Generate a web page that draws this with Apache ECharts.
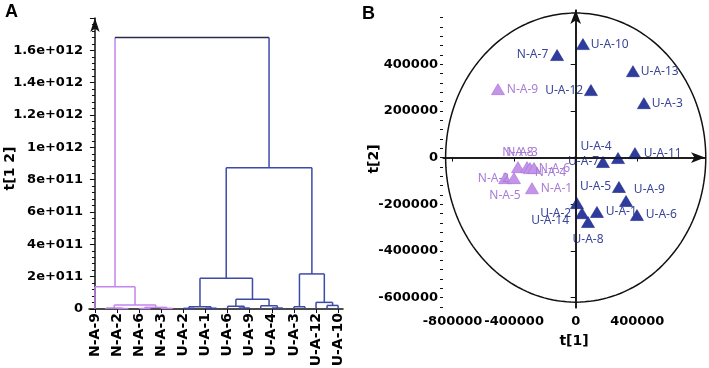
<!DOCTYPE html>
<html><head><meta charset="utf-8">
<script src="https://cdn.jsdelivr.net/npm/echarts@6/dist/echarts.min.js"></script>
<style>html,body{margin:0;padding:0;background:#fff}#c{width:709px;height:368px}</style>
</head><body><div id="c"></div>
<script>
// ---------- Panel A: hierarchical clustering dendrogram ----------
const leafCount = 23;
const leafTickPositions = [0, 2, 4, 6, 8, 10, 12, 14, 16, 18, 20, 22];
const leafTickLabels = ['N-A-9','N-A-2','N-A-6','N-A-3','U-A-2','U-A-1','U-A-6','U-A-9','U-A-4','U-A-3','U-A-12','U-A-10'];
// merges (node ids: leaves 0..22, merge k -> id 23+k)
const mergeLeft   = [2, 1, 4, 6, 25, 24, 0,   8, 10, 30, 13, 12, 16, 15, 34, 32, 18, 21, 20, 39, 38, 29];
const mergeRight  = [3, 23, 5, 7, 26, 27, 28,  9, 11, 31, 14, 33, 17, 35, 36, 37, 19, 22, 40, 41, 42, 43];
const mergeHeight = [3e9, 6e9, 3e9, 4e9, 1.0e10, 2.5e10, 1.38e11,
                     4e9, 5e9, 1.4e10, 6e9, 1.7e10, 6e9, 2.0e10, 6.0e10, 1.9e11,
                     1.4e10, 2.2e10, 4.1e10, 2.17e11, 8.73e11, 1.68e12];
const mergeGroup  = [0,0,0,0,0,0,0, 1,1,1,1,1,1,1,1,1, 1,1,1,1,1, 2]; // 0 N, 1 U, 2 root
const yTicksA = [0, 2e11, 4e11, 6e11, 8e11, 1e12, 1.2e12, 1.4e12, 1.6e12];

// ---------- Panel B: PCA score plot ----------
const nNames = ['N-A-9','N-A-8','N-A-3','N-A-6','N-A-4','N-A-5','N-A-2','N-A-1'];
const nT1    = [-505000,-375000,-316000,-297000,-271000,-459000,-401000,-284000];
const nT2    = [ 293000, -41000, -41000, -45000, -45000, -88000, -88000,-131000];
const uNames = ['N-A-7','U-A-10','U-A-12','U-A-13','U-A-3','U-A-11','U-A-4','U-A-7','U-A-5','U-A-9','U-A-6','U-A-1','U-A-14','U-A-2','U-A-8'];
const uT1    = [-121000, 47000, 99000, 372000, 443000, 385000, 275000, 177000, 281000, 327000, 398000, 138000, 8000, 41000, 80000];
const uT2    = [ 439000,486000,289000, 370000, 233000,  19000,  -2000, -19000,-126000,-186000,-246000,-233000,-195000,-238000,-276000];
const ellipseRadiusT1 = 845000, ellipseRadiusT2 = 619000;
const xTicksB = [-800000, -400000, 0, 400000];
const yTicksB = [-600000, -400000, -200000, 0, 200000, 400000];

// ---------- styles ----------
const PINK = '#c585ee', BLUE = '#3d4aa8', ROOT = '#2a2a55';
const segColors = [PINK, BLUE, ROOT];
const labelStyle = {
  'N-A-9': {position:'right', distance:2},
  'N-A-8': {position:'top', distance:3},
  'N-A-3': {position:'top', distance:3, offset:[-5,0]},
  'N-A-6': {position:'right', distance:2},
  'N-A-4': {position:'right', distance:-6, offset:[0,4]},
  'N-A-5': {position:'bottom', distance:6},
  'N-A-2': {position:'left', distance:-2},
  'N-A-1': {position:'right', distance:2},
  'N-A-7': {position:'left', distance:2},
  'U-A-10': {position:'right', distance:1},
  'U-A-12': {position:'left', distance:1},
  'U-A-13': {position:'right', distance:1},
  'U-A-3': {position:'right', distance:1},
  'U-A-11': {position:'right', distance:2},
  'U-A-4': {position:'top', distance:4, offset:[-22,4]},
  'U-A-7': {position:'left', distance:-3},
  'U-A-5': {position:'left', distance:1},
  'U-A-9': {position:'right', distance:1, offset:[0,-11]},
  'U-A-6': {position:'right', distance:2},
  'U-A-1': {position:'right', distance:2},
  'U-A-14': {position:'left', distance:1, offset:[0,17]},
  'U-A-2': {position:'left', distance:4},
  'U-A-8': {position:'bottom', distance:6}
};

// build dendrogram segments
const nodeX = [], nodeH = [], nodeG = [];
for (let i = 0; i < leafCount; i++) { nodeX.push(i); nodeH.push(0); nodeG.push(null); }
const segs = [];
mergeLeft.forEach((a, k) => {
  const b = mergeRight[k], h = mergeHeight[k], g = mergeGroup[k];
  const xa = nodeX[a], xb = nodeX[b];
  const ga = nodeG[a] === null ? g : nodeG[a];
  const gb = nodeG[b] === null ? g : nodeG[b];
  segs.push([xa, nodeH[a], xa, h, ga]);
  segs.push([xa, h, xb, h, g]);
  segs.push([xb, nodeH[b], xb, h, gb]);
  nodeX.push((xa + xb) / 2); nodeH.push(h); nodeG.push(g);
});

function sciFmt(v) {
  if (v === 0) return '0';
  const e = Math.floor(Math.log10(v) + 1e-9);
  const m = Math.round(v / Math.pow(10, e) * 10) / 10;
  return m + 'e+' + String(e).padStart(3, '0');
}

const ellipse = [];
for (let d = 0; d <= 360; d += 2) {
  const t = d * Math.PI / 180;
  ellipse.push([ellipseRadiusT1 * Math.cos(t), ellipseRadiusT2 * Math.sin(t)]);
}
const minorB = [];
for (let v = -640000; v <= 620000; v += 40000) minorB.push(v);

function pts(names, t1, t2, txtColor) {
  return names.map((n, i) => ({
    name: n, value: [t1[i], t2[i]],
    label: Object.assign({show: true, formatter: n, color: txtColor,
      fontFamily: 'Noto Sans', fontSize: 12}, labelStyle[n] || {})
  }));
}

const boldTxt = {fontFamily: 'DejaVu Sans', fontWeight: 'bold', fontSize: 13, color: '#000'};
const nameTxt = {fontFamily: 'DejaVu Sans', fontWeight: 'bold', fontSize: 14, color: '#000'};
const axisLn = {show: true, lineStyle: {color: '#111', width: 1.5}};

const chart = echarts.init(document.getElementById('c'), null, {renderer: 'canvas'});
chart.setOption({
  animation: false,
  backgroundColor: '#fff',
  grid: [
    {left: 89, right: 366, top: 18, bottom: 59, outerBoundsMode: 'none', containLabel: false},
    {left: 443, right: 4, top: 10, bottom: 60, outerBoundsMode: 'none', containLabel: false}
  ],
  xAxis: [
    {gridIndex: 0, type: 'value', min: -0.54, max: 22.44,
     axisLine: axisLn, splitLine: {show: false},
     axisTick: {show: true, customValues: leafTickPositions, length: 4, lineStyle: {color: '#111'}},
     axisLabel: Object.assign({customValues: leafTickPositions, rotate: 90, margin: 4,
       formatter: v => leafTickLabels[Math.round(v / 2)]}, boldTxt, {fontSize: 14})},
    {gridIndex: 1, type: 'value', min: -862000, max: 840000,
     axisLine: {show: true, symbol: ['none', 'arrow'], symbolSize: [8, 14], lineStyle: {color: '#111', width: 1.5}},
     splitLine: {show: false},
     axisTick: {show: true, customValues: xTicksB, length: 4, lineStyle: {color: '#111'}},
     axisLabel: Object.assign({customValues: xTicksB, margin: 7, formatter: v => String(v)}, boldTxt),
     name: 't[1]', nameLocation: 'middle', nameGap: 26, nameMoveOverlap: false,
     nameTextStyle: nameTxt}
  ],
  yAxis: [
    {gridIndex: 0, type: 'value', min: 0, max: 1.8e12, interval: 2e11,
     axisLine: {show: true, symbol: ['none', 'arrow'], symbolSize: [7, 14], lineStyle: {color: '#111', width: 1.5}},
     splitLine: {show: false},
     axisTick: {show: true, length: 5, lineStyle: {color: '#111'}},
     minorTick: {show: true, splitNumber: 5, length: 3, lineStyle: {color: '#111'}},
     axisLabel: Object.assign({showMaxLabel: false, margin: 6, formatter: sciFmt}, boldTxt),
     name: 't[1 2]', nameLocation: 'middle', nameGap: 72, nameMoveOverlap: false,
     nameTextStyle: Object.assign({padding: [0, 10, 0, 0]}, nameTxt)},
    {gridIndex: 1, type: 'value', min: -644000, max: 632000, position: 'left',
     axisLine: {show: true, symbol: ['none', 'arrow'], symbolSize: [8, 14], lineStyle: {color: '#111', width: 1.5}},
     splitLine: {show: false},
     axisTick: {show: true, customValues: yTicksB, length: 5, lineStyle: {color: '#111'}},
     axisLabel: Object.assign({customValues: yTicksB, margin: 5, formatter: v => String(v)}, boldTxt),
     name: 't[2]', nameLocation: 'middle', nameGap: 62, nameMoveOverlap: false,
     nameTextStyle: nameTxt},
    {gridIndex: 1, type: 'value', min: -644000, max: 632000, position: 'left', offset: 0,
     axisLine: {show: false}, splitLine: {show: false}, axisLabel: {show: false},
     axisTick: {show: true, customValues: minorB, length: 3, lineStyle: {color: '#111'}}}
  ],
  graphic: [
    {type: 'text', left: 5, top: 3, style: {text: 'A', fontFamily: 'Liberation Sans', fontWeight: 'bold', fontSize: 18, fill: '#000'}},
    {type: 'text', left: 362, top: 5, style: {text: 'B', fontFamily: 'Liberation Sans', fontWeight: 'bold', fontSize: 18, fill: '#000'}}
  ],
  series: [
    {type: 'custom', xAxisIndex: 0, yAxisIndex: 0, data: segs, encode: {x: [0, 2], y: [1, 3]},
     renderItem: (params, api) => {
       const p1 = api.coord([api.value(0), api.value(1)]);
       const p2 = api.coord([api.value(2), api.value(3)]);
       return {type: 'line', shape: {x1: p1[0], y1: p1[1], x2: p2[0], y2: p2[1]},
               style: {stroke: segColors[api.value(4)], lineWidth: 1.5}};
     }},
    {type: 'line', xAxisIndex: 1, yAxisIndex: 1, data: ellipse, showSymbol: false, symbol: 'none',
     lineStyle: {color: '#111', width: 1.5}, silent: true, z: 1,
     markLine: {silent: true, symbol: 'none', label: {show: false},
       lineStyle: {color: '#111', width: 1.5, type: 'solid'},
       data: [{xAxis: 0}, {yAxis: 0}]}},
    {type: 'scatter', xAxisIndex: 1, yAxisIndex: 1, symbol: 'triangle', symbolSize: [13, 11],
     itemStyle: {color: '#c493ea', borderColor: '#a46fd6', borderWidth: 0.6, opacity: 1},
     data: pts(nNames, nT1, nT2, '#a97cd6'), z: 3},
    {type: 'scatter', xAxisIndex: 1, yAxisIndex: 1, symbol: 'triangle', symbolSize: [13, 11],
     itemStyle: {color: '#2f3c9f', borderColor: '#1f2a80', borderWidth: 0.6, opacity: 1},
     data: pts(uNames, uT1, uT2, '#3a4699'), z: 4}
  ]
});
</script></body></html>
